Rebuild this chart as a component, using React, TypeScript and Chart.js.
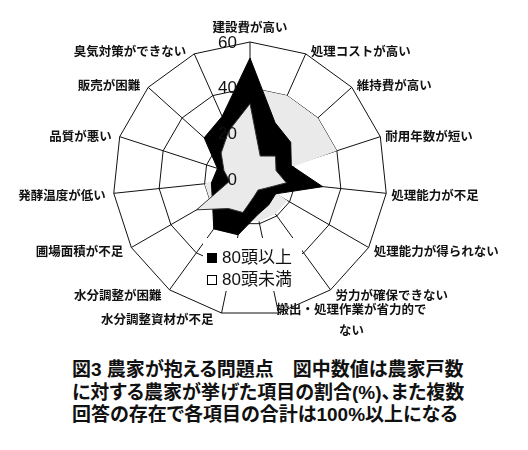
import React, { useEffect, useRef } from "react";
import { Chart, registerables } from "chart.js";

Chart.register(...registerables);

const categories: (string | string[])[] = [
  "建設費が高い",
  "処理コストが高い",
  "維持費が高い",
  "耐用年数が短い",
  "処理能力が不足",
  "処理能力が得られない",
  "労力が確保できない",
  ["搬出・処理作業が省力的で", "ない"],
  "水分調整資材が不足",
  "水分調整が困難",
  "圃場面積が不足",
  "発酵温度が低い",
  "品質が悪い",
  "販売が困難",
  "臭気対策ができない",
];

// values (%)
const over80 = [53, 27, 24, 19, 32, 13, 14, 16, 25, 27, 19, 17, 15, 27, 30];
const under80 = [33, 11, 15, 12, 16, 8, 6, 8, 15, 16, 27, 9, 12, 17, 23];
// light grey area that shows behind the black series
const backShade = [40, 40, 40, 40, 3, 19, 19, 19, 18, 20, 20, 20, 8, 6, 8];

const tickValues = [0, 20, 40, 60];
const legendLabels = ["80頭以上", "80頭未満"];

const captionLines = [
  "図3 農家が抱える問題点\u3000図中数値は農家戸数",
  "に対する農家が挙げた項目の割合(%)、また複数",
  "回答の存在で各項目の合計は100%以上になる",
];

const JP = '"Noto Sans CJK JP", "Noto Sans", sans-serif';

const overlay = {
  id: "overlay",
  afterDatasetsDraw(chart: any) {
    const scale = chart.scales.r;
    const ctx: CanvasRenderingContext2D = chart.ctx;
    const cx = scale.xCenter;
    const cy = scale.yCenter;
    const R = scale.drawingArea;
    ctx.save();

    // legend box (covers the lower part of the web, like the original)
    const bx = cx - 47;
    const by = cy + 59;
    ctx.fillStyle = "#fff";
    ctx.fillRect(bx, by, 99, 53);
    ctx.fillStyle = "#000";
    ctx.fillRect(bx + 4, by + 15, 10, 10);
    ctx.strokeStyle = "#000";
    ctx.lineWidth = 1;
    ctx.strokeRect(bx + 4.5, by + 37.5, 9, 9);
    ctx.font = `17px "Liberation Sans", ${JP}`;
    ctx.textAlign = "left";
    ctx.textBaseline = "middle";
    ctx.fillStyle = "#111";
    ctx.fillText(legendLabels[0], bx + 19, by + 20);
    ctx.fillText(legendLabels[1], bx + 19, by + 42);

    // tick numbers, drawn over the data
    ctx.font = '17px "Liberation Sans", Arial, sans-serif';
    ctx.textAlign = "right";
    tickValues.forEach((v) => {
      const d = scale.getDistanceFromCenterForValue(v);
      ctx.fillText(String(v), cx - 13, cy - d + 1);
    });

    // category labels
    ctx.font = `bold 12.5px ${JP}`;
    const n = categories.length;
    categories.forEach((label, i) => {
      const lines = Array.isArray(label) ? label : [label];
      const a = (i * 2 * Math.PI) / n;
      const s = Math.sin(a);
      const c = Math.cos(a);
      const p = scale.getPointPosition(i, R);
      const widths = lines.map((l) => ctx.measureText(l).width);
      const w = Math.max(...widths);
      const lh = 21;
      let left: number;
      let midY: number;
      if (Math.abs(s) < 0.05) {
        left = p.x - w / 2;
        midY = p.y - 15;
      } else if (s > 0) {
        left = p.x + (s > 0.3 ? 5 : -2);
        midY = p.y - 5 * c + 1.5;
      } else {
        left = p.x - 8 - w;
        midY = p.y - 5 * c + 1.5;
      }
      const top = midY - ((lines.length - 1) * lh) / 2;
      ctx.textAlign = "left";
      lines.forEach((l, k) => {
        ctx.fillText(l, left + (w - widths[k]) / 2, top + k * lh);
      });
    });
    ctx.restore();
  },
};

export default function App() {
  const canvasRef = useRef<HTMLCanvasElement | null>(null);
  const chartRef = useRef<Chart | null>(null);

  useEffect(() => {
    if (!canvasRef.current) return;
    const ctx = canvasRef.current.getContext("2d");
    if (!ctx) return;

    chartRef.current = new Chart(ctx, {
      type: "radar",
      data: {
        labels: categories,
        datasets: [
          {
            label: legendLabels[1],
            data: under80,
            backgroundColor: "#eaeaea",
            borderColor: "#333",
            borderWidth: 1,
            pointRadius: 0,
            fill: true,
          },
          {
            label: legendLabels[0],
            data: over80,
            backgroundColor: "#000",
            borderColor: "#000",
            borderWidth: 1,
            pointRadius: 0,
            fill: true,
          },
          {
            label: "",
            data: backShade,
            backgroundColor: "#eaeaea",
            borderWidth: 0,
            pointRadius: 0,
            fill: true,
          },
        ],
      },
      options: {
        animation: false,
        responsive: true,
        maintainAspectRatio: false,
        layout: { padding: { left: 105, right: 133, top: 34, bottom: 37 } },
        plugins: {
          legend: { display: false },
          tooltip: { enabled: false },
        },
        scales: {
          r: {
            min: 0,
            max: 60,
            ticks: { stepSize: 20, display: false },
            grid: { color: "#111", lineWidth: 1 },
            angleLines: { color: "#111", lineWidth: 1 },
            pointLabels: { display: false },
          },
        },
      },
      plugins: [overlay],
    });

    return () => {
      if (chartRef.current) {
        chartRef.current.destroy();
        chartRef.current = null;
      }
    };
  }, []);

  return (
    <div style={{ width: 512, background: "#fff" }}>
      <div style={{ position: "relative", width: 512, height: 345 }}>
        <canvas ref={canvasRef} />
      </div>
      <div
        style={{
          marginTop: 6,
          marginLeft: 64,
          fontFamily: `"Liberation Sans", ${JP}`,
          fontWeight: 700,
          fontSize: 19,
          lineHeight: "22.5px",
          fontFeatureSettings: '"palt"',
          color: "#111",
          whiteSpace: "nowrap",
        }}
      >
        {captionLines.map((l) => (
          <div key={l}>{l}</div>
        ))}
      </div>
    </div>
  );
}
